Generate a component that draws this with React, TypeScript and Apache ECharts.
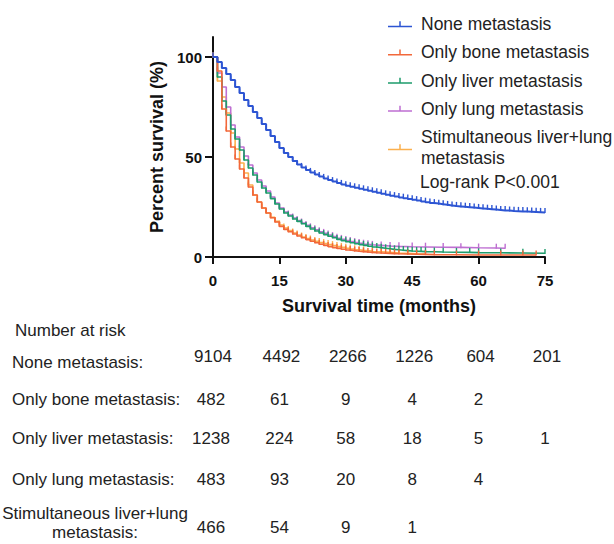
import React, { useEffect, useRef } from "react";
import * as echarts from "echarts";

const FONT = '"Liberation Sans", Arial, Helvetica, sans-serif';

const seriesNames = [
  "None metastasis",
  "Only bone metastasis",
  "Only liver metastasis",
  "Only lung metastasis",
  "Stimultaneous liver+lung\nmetastasis",
];
const seriesColors = ["#2D55D3", "#F2683A", "#1E9C6C", "#BE6FD2", "#FBB04E"];

// Kaplan-Meier estimates: [month, percent survival]
const noneMetastasis = [
  [0, 100], [1, 97.5], [2, 94.5], [3, 91.5], [4, 88.5], [5, 85], [6, 82], [7, 78.5], [8, 75.5], [9, 72.5],
  [10, 69.5], [11, 66.5], [12, 63.5], [13, 60.5], [14, 57.5], [15, 54.5], [16, 52], [17, 50], [18, 48], [19, 46.3],
  [20, 44.8], [21, 43.5], [22, 42.3], [23, 41.2], [24, 40.2], [25, 39.3], [26, 38.5], [27, 37.7], [28, 37], [29, 36.3],
  [30, 35.6], [31, 35.1], [32, 34.6], [33, 34.1], [34, 33.6], [35, 33.1], [36, 32.6], [37, 32.1], [38, 31.6], [39, 31.1],
  [40, 30.6], [41, 30.2], [42, 29.8], [43, 29.4], [44, 29], [45, 28.6], [46, 28.2], [47, 27.8], [48, 27.4], [49, 27],
  [50, 26.7], [51, 26.4], [52, 26.1], [53, 25.8], [54, 25.5], [55, 25.3], [56, 25.1], [57, 24.9], [58, 24.7], [59, 24.5],
  [60, 24.3], [61, 24.1], [62, 23.9], [63, 23.7], [64, 23.5], [65, 23.3], [66, 23.2], [67, 23], [68, 22.9], [69, 22.8],
  [70, 22.7], [71, 22.6], [72, 22.5], [73, 22.4], [74, 22.3], [75, 22.2],
];
const onlyBone = [
  [0, 100], [1, 93], [2, 74], [3, 63], [4, 55], [5, 49], [6, 44], [7, 39.5], [8, 35], [9, 31],
  [10, 27.5], [11, 24.5], [12, 22], [13, 19.6], [14, 17.5], [15, 15.3], [16, 13.8], [17, 12.6], [18, 11.5], [19, 10.5],
  [20, 9.6], [21, 8.7], [22, 7.9], [23, 7.1], [24, 6.4], [25, 5.8], [26, 5.2], [27, 4.7], [28, 4.3], [29, 3.9],
  [30, 3.5], [31, 3.2], [32, 2.9], [33, 2.7], [34, 2.5], [35, 2.3], [36, 2.1], [37, 2], [38, 1.9], [39, 1.8],
  [40, 1.7], [41, 1.6], [42, 1.5], [44, 1.4], [46, 1.3], [48, 1.2], [50, 1.1], [55, 1], [60, 1], [65, 1],
  [70, 1], [73, 1],
];
const onlyLiver = [
  [0, 100], [1, 90], [2, 78], [3, 71], [4, 64], [5, 59], [6, 53.5], [7, 48.5], [8, 44.5], [9, 41],
  [10, 37.5], [11, 34.5], [12, 32], [13, 29.2], [14, 26.5], [15, 24], [16, 22], [17, 20.5], [18, 19], [19, 17.8],
  [20, 16.6], [21, 15.3], [22, 14], [23, 13], [24, 12], [25, 11.2], [26, 10.4], [27, 9.6], [28, 8.8], [29, 8.2],
  [30, 7.6], [31, 7.1], [32, 6.6], [33, 6.2], [34, 5.8], [35, 5.4], [36, 5], [37, 4.7], [38, 4.4], [39, 4.1],
  [40, 3.8], [41, 3.6], [42, 3.4], [43, 3.2], [44, 3], [45, 2.9], [46, 2.8], [47, 2.7], [48, 2.6], [50, 2.5],
  [52, 2.4], [55, 2.3], [58, 2.2], [60, 2.1], [65, 2], [70, 1.9], [75, 1.8],
];
const onlyLung = [
  [0, 100], [1, 92], [2, 85], [3, 75], [4, 66], [5, 60], [6, 55], [7, 50.5], [8, 46], [9, 42],
  [10, 38.5], [11, 35.5], [12, 33], [13, 30], [14, 27], [15, 24.5], [16, 22.5], [17, 21], [18, 19.5], [19, 18.2],
  [20, 17], [21, 15.8], [22, 14.6], [23, 13.6], [24, 12.6], [25, 11.8], [26, 11], [27, 10.2], [28, 9.4], [29, 8.8],
  [30, 8.2], [31, 7.7], [32, 7.2], [33, 6.8], [34, 6.4], [35, 6.1], [36, 5.8], [38, 5.5], [40, 5.3], [42, 5.1],
  [45, 5], [48, 4.9], [52, 4.8], [56, 4.6], [60, 4.5], [64, 4.4], [66, 4.4],
];
const liverLung = [
  [0, 100], [1, 88], [2, 80], [3, 72], [4, 62], [5, 54], [6, 47], [7, 42], [8, 36], [9, 31],
  [10, 27.5], [11, 24.5], [12, 22], [13, 19.8], [14, 17.8], [15, 16], [16, 14.5], [17, 13.2], [18, 12], [19, 11],
  [20, 10], [21, 9.2], [22, 8.5], [23, 7.8], [24, 7.2], [25, 6.7], [26, 6.2], [27, 5.7], [28, 5.2], [29, 4.8],
  [30, 4.4], [31, 4], [32, 3.6], [33, 3.3], [34, 3], [36, 2.6], [38, 2.3], [40, 2], [42, 1.8], [44, 1.6],
  [46, 1.5], [48, 1.4],
];
const seriesData = [noneMetastasis, onlyBone, onlyLiver, onlyLung, liverLung];

const xTicks = [0, 15, 30, 45, 60, 75];
const yTicks = [0, 50, 100];

// Number at risk table
const riskTitle = "Number at risk";
const riskLabels = [
  "None metastasis:",
  "Only bone metastasis:",
  "Only liver metastasis:",
  "Only lung metastasis:",
  "Stimultaneous liver+lung\nmetastasis:",
];
const riskNone = [9104, 4492, 2266, 1226, 604, 201];
const riskBone = [482, 61, 9, 4, 2];
const riskLiver = [1238, 224, 58, 18, 5, 1];
const riskLung = [483, 93, 20, 8, 4];
const riskLiverLung = [466, 54, 9, 1];
const riskValues = [riskNone, riskBone, riskLiver, riskLung, riskLiverLung];
const logRankText = "Log-rank P<0.001";

export default function App() {
  const ref = useRef<HTMLDivElement>(null);
  useEffect(() => {
    if (!ref.current) return;
    const chart = echarts.init(ref.current, undefined, { renderer: "svg" });
    const legendIcon =
      "path://M0,9 L48,9 L48,12 L0,12 Z M22.5,0 L25.5,0 L25.5,10 L22.5,10 Z";
    chart.setOption({
      animation: false,
      backgroundColor: "#ffffff",
      grid: { left: 213, right: 69, top: 37, bottom: 287, containLabel: false },
      legend: {
        orient: "vertical",
        left: 383,
        top: 9,
        itemWidth: 24,
        itemHeight: 6,
        itemGap: 7.7,
        selectedMode: false,
        icon: legendIcon,
        data: seriesNames,
        textStyle: {
          fontFamily: FONT,
          fontSize: 17.5,
          color: "#222",
          lineHeight: 20.5,
          padding: [0, 0, 0, 4],
        },
      },
      xAxis: {
        type: "value",
        min: 0,
        max: 75,
        interval: 15,
        name: "Survival time (months)",
        nameLocation: "middle",
        nameGap: 40,
        nameTextStyle: { fontFamily: FONT, fontSize: 18, fontWeight: "bold", color: "#111" },
        axisLine: { show: true, onZero: false, lineStyle: { color: "#111", width: 2 } },
        axisTick: { show: true, length: 7, lineStyle: { color: "#111", width: 2 }, customValues: xTicks },
        axisLabel: {
          margin: 16,
          fontFamily: FONT,
          fontSize: 15,
          fontWeight: "bold",
          color: "#111",
          customValues: xTicks,
        },
        splitLine: { show: false },
      },
      yAxis: {
        type: "value",
        min: 0,
        max: 110,
        name: "Percent survival (%)",
        nameLocation: "middle",
        nameGap: 45,
        nameTextStyle: { fontFamily: FONT, fontSize: 18, fontWeight: "bold", color: "#111" },
        axisLine: { show: true, onZero: false, lineStyle: { color: "#111", width: 2 } },
        axisTick: { show: true, length: 8, lineStyle: { color: "#111", width: 2 }, customValues: yTicks },
        axisLabel: {
          margin: 11,
          fontFamily: FONT,
          fontSize: 15,
          fontWeight: "bold",
          color: "#111",
          customValues: yTicks,
        },
        splitLine: { show: false },
      },
      series: seriesData.map((d, i) => ({
        name: seriesNames[i],
        type: "line",
        step: "end",
        data: d,
        silent: true,
        color: seriesColors[i],
        lineStyle: { color: seriesColors[i], width: i === 0 ? 2 : 1.6 },
        itemStyle: { color: seriesColors[i], borderWidth: 0 },
        showSymbol: true,
        showAllSymbol: true,
        symbol: "rect",
        symbolSize: [1.4, 5],
        symbolOffset: [0, -2],
        emphasis: { disabled: true },
        z: 10 - i,
      })),
    });

    const colX = xTicks.map((t) => chart.convertToPixel({ xAxisIndex: 0 }, t) as number);
    const rowLabelY = [362, 399, 438, 479, 523];
    const rowValueY = [356, 399, 438, 479, 527];
    const textStyle = (extra: any) => ({
      fontFamily: FONT,
      fontSize: 17,
      fill: "#222",
      ...extra,
    });
    const graphics: any[] = [
      {
        type: "text",
        left: 15,
        top: 322,
        style: textStyle({ text: riskTitle }),
      },
      {
        type: "text",
        x: 420,
        y: 182,
        style: textStyle({ text: logRankText, fontSize: 17.5, verticalAlign: "middle" }),
      },
    ];
    riskLabels.forEach((label, r) => {
      const multi = label.includes("\n");
      graphics.push({
        type: "text",
        x: multi ? 95 : 12,
        y: rowLabelY[r],
        style: textStyle({
          text: label,
          textAlign: multi ? "center" : "left",
          verticalAlign: "middle",
          lineHeight: 19,
        }),
      });
      riskValues[r].forEach((v, c) => {
        graphics.push({
          type: "text",
          x: colX[c] + (r === 0 ? 2 : 0) - (c === 0 ? 2 : 0),
          y: rowValueY[r],
          style: textStyle({ text: String(v), textAlign: "center", verticalAlign: "middle" }),
        });
      });
    });
    chart.setOption({ graphic: graphics });

    return () => chart.dispose();
  }, []);
  return (
    <div
      ref={ref}
      style={{ position: "fixed", left: 0, top: 0, width: 614, height: 544, background: "#fff" }}
    />
  );
}
